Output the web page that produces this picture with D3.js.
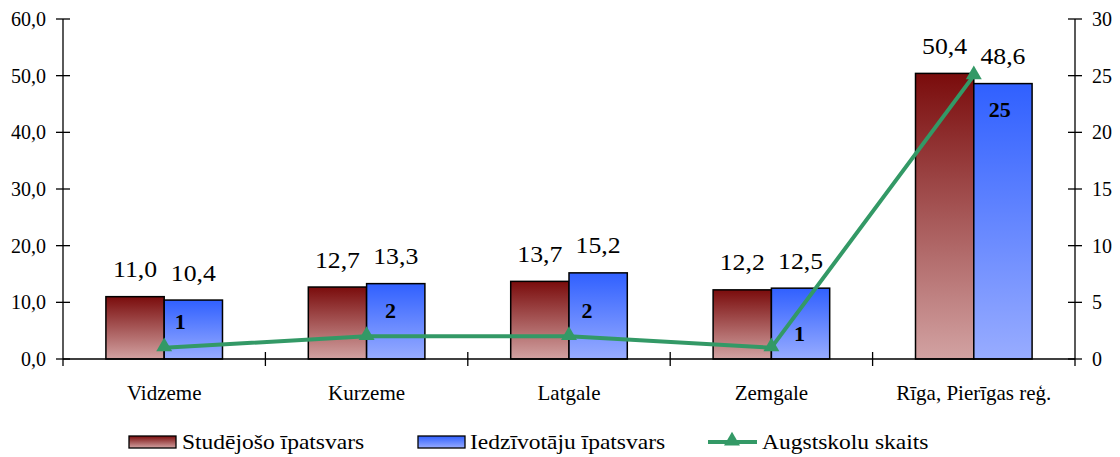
<!DOCTYPE html>
<html>
<head>
<meta charset="utf-8">
<script src="https://cdn.jsdelivr.net/npm/d3@7"></script>
<style>
  html, body { margin: 0; padding: 0; background: #fff; }
  svg { display: block; }
  svg text { font-family: "Liberation Serif", "Times New Roman", serif; }
</style>
</head>
<body>
<svg id="chart" width="1120" height="457"></svg>
<script>
// Regions and their shares (%) plus number of higher-education institutions
const regions = ["Vidzeme", "Kurzeme", "Latgale", "Zemgale", "Rīga, Pierīgas reģ."];
const studentShare = [11.0, 12.7, 13.7, 12.2, 50.4];
const populationShare = [10.4, 13.3, 15.2, 12.5, 48.6];
const universityCount = [1, 2, 2, 1, 25];
const leftTicks = [0, 10, 20, 30, 40, 50, 60];
const rightTicks = [0, 5, 10, 15, 20, 25, 30];
const seriesNames = ["Studējošo īpatsvars", "Iedzīvotāju īpatsvars", "Augstskolu skaits"];

const svg = d3.select("#chart");
const plot = { left: 63, right: 1075, top: 19, bottom: 359 };

const x = d3.scaleBand().domain(regions).range([plot.left, plot.right]).padding(0);
const bw = x.bandwidth();
const xInner = d3.scaleBand().domain([0, 1]).range([bw * 0.212, bw * 0.788]).padding(0);
const yL = d3.scaleLinear().domain([0, 60]).range([plot.bottom, plot.top]);
const yR = d3.scaleLinear().domain([0, 30]).range([plot.bottom, plot.top]);

const fmt = v => d3.format(".1f")(v).replace(".", ",");

// Gradients for the bars
const defs = svg.append("defs");
function grad(id, top, bottom) {
  const g = defs.append("linearGradient").attr("id", id)
    .attr("x1", 0).attr("y1", 0).attr("x2", 0).attr("y2", 1);
  g.append("stop").attr("offset", "0%").attr("stop-color", top);
  g.append("stop").attr("offset", "100%").attr("stop-color", bottom);
}
grad("gRed", "#7a0c0c", "#d2a2a2");
grad("gBlue", "#3060ff", "#98acff");
const fills = ["url(#gRed)", "url(#gBlue)"];
const green = "#339966";

// Bars and their value labels (labels slightly widened)
const series = [studentShare, populationShare];
series.forEach((vals, s) => {
  svg.append("g").selectAll("rect").data(vals).join("rect")
    .attr("x", (d, i) => x(regions[i]) + xInner(s))
    .attr("y", d => yL(d))
    .attr("width", xInner.bandwidth())
    .attr("height", d => yL(0) - yL(d))
    .attr("fill", fills[s])
    .attr("stroke", "#000").attr("stroke-width", 1.5);
  svg.append("g").selectAll("text").data(vals).join("text")
    .attr("transform", (d, i) =>
      `translate(${x(regions[i]) + xInner(s) + xInner.bandwidth() / 2},${yL(d) - 19.5}) scale(1.12,1)`)
    .attr("text-anchor", "middle")
    .attr("font-size", 23)
    .attr("fill", "#000")
    .text(d => fmt(d));
});

// Axes
const gAx = svg.append("g").attr("stroke", "#000").attr("stroke-width", 1.3);
gAx.append("line").attr("x1", plot.left).attr("x2", plot.left).attr("y1", plot.top).attr("y2", plot.bottom + 7);
gAx.append("line").attr("x1", plot.right).attr("x2", plot.right).attr("y1", plot.top).attr("y2", plot.bottom + 7);
gAx.append("line").attr("x1", plot.left).attr("x2", plot.right).attr("y1", plot.bottom).attr("y2", plot.bottom);
gAx.selectAll(".tl").data(leftTicks).join("line").attr("class", "tl")
  .attr("x1", plot.left - 7).attr("x2", plot.left + 7)
  .attr("y1", d => yL(d)).attr("y2", d => yL(d));
gAx.selectAll(".tr").data(rightTicks).join("line").attr("class", "tr")
  .attr("x1", plot.right - 7).attr("x2", plot.right + 7)
  .attr("y1", d => yR(d)).attr("y2", d => yR(d));
gAx.selectAll(".tc").data(regions.slice(1)).join("line").attr("class", "tc")
  .attr("x1", d => x(d)).attr("x2", d => x(d))
  .attr("y1", plot.bottom - 7).attr("y2", plot.bottom + 7);

svg.append("g").selectAll("text").data(leftTicks).join("text")
  .attr("x", 46).attr("y", d => yL(d)).attr("dy", "0.35em")
  .attr("text-anchor", "end").attr("font-size", 20).attr("fill", "#000")
  .text(d => fmt(d));
svg.append("g").selectAll("text").data(rightTicks).join("text")
  .attr("x", 1092).attr("y", d => yR(d)).attr("dy", "0.35em")
  .attr("text-anchor", "start").attr("font-size", 20).attr("fill", "#000")
  .text(d => d);
svg.append("g").selectAll("text").data(regions).join("text")
  .attr("x", d => x(d) + bw / 2).attr("y", 400)
  .attr("text-anchor", "middle").attr("font-size", 21).attr("fill", "#000")
  .text(d => d);

// Line series on the right axis
const lineGen = d3.line().x((d, i) => x(regions[i]) + bw / 2).y(d => yR(d));
svg.append("path").datum(universityCount)
  .attr("d", lineGen).attr("fill", "none")
  .attr("stroke", green).attr("stroke-width", 4).attr("stroke-linejoin", "round");
const tri = d3.symbol().type(d3.symbolTriangle).size(110);
svg.append("g").selectAll("path").data(universityCount).join("path")
  .attr("transform", (d, i) => `translate(${x(regions[i]) + bw / 2},${yR(d) - 1})`)
  .attr("d", tri).attr("fill", green);

// Count labels, nudged off the line
const countLabelOffset = [[16, -26], [24, -26], [18, -26], [28, -14], [26, 34]];
svg.append("g").selectAll("text").data(universityCount).join("text")
  .attr("x", (d, i) => x(regions[i]) + bw / 2 + countLabelOffset[i][0])
  .attr("y", (d, i) => yR(d) + countLabelOffset[i][1])
  .attr("dy", "0.35em")
  .attr("text-anchor", "middle").attr("font-size", 22).attr("font-weight", "bold")
  .attr("fill", "#000")
  .text(d => d);

// Legend
const lg = svg.append("g");
const legendY = 442;
[[129, 182], [418, 470]].forEach(([sx, tx], i) => {
  lg.append("rect").attr("x", sx).attr("y", legendY - 6).attr("width", 47).attr("height", 12)
    .attr("fill", fills[i]).attr("stroke", "#000").attr("stroke-width", 1.3);
  lg.append("text")
    .attr("transform", `translate(${tx},${legendY + 7}) scale(1.12,1)`)
    .attr("font-size", 21).attr("fill", "#000")
    .text(seriesNames[i]);
});
lg.append("line").attr("x1", 708).attr("x2", 757).attr("y1", legendY).attr("y2", legendY)
  .attr("stroke", green).attr("stroke-width", 4);
lg.append("path").attr("transform", `translate(732,${legendY - 1})`).attr("d", tri).attr("fill", green);
lg.append("text")
  .attr("transform", `translate(762,${legendY + 7}) scale(1.12,1)`)
  .attr("font-size", 21).attr("fill", "#000")
  .text(seriesNames[2]);
</script>
</body>
</html>
